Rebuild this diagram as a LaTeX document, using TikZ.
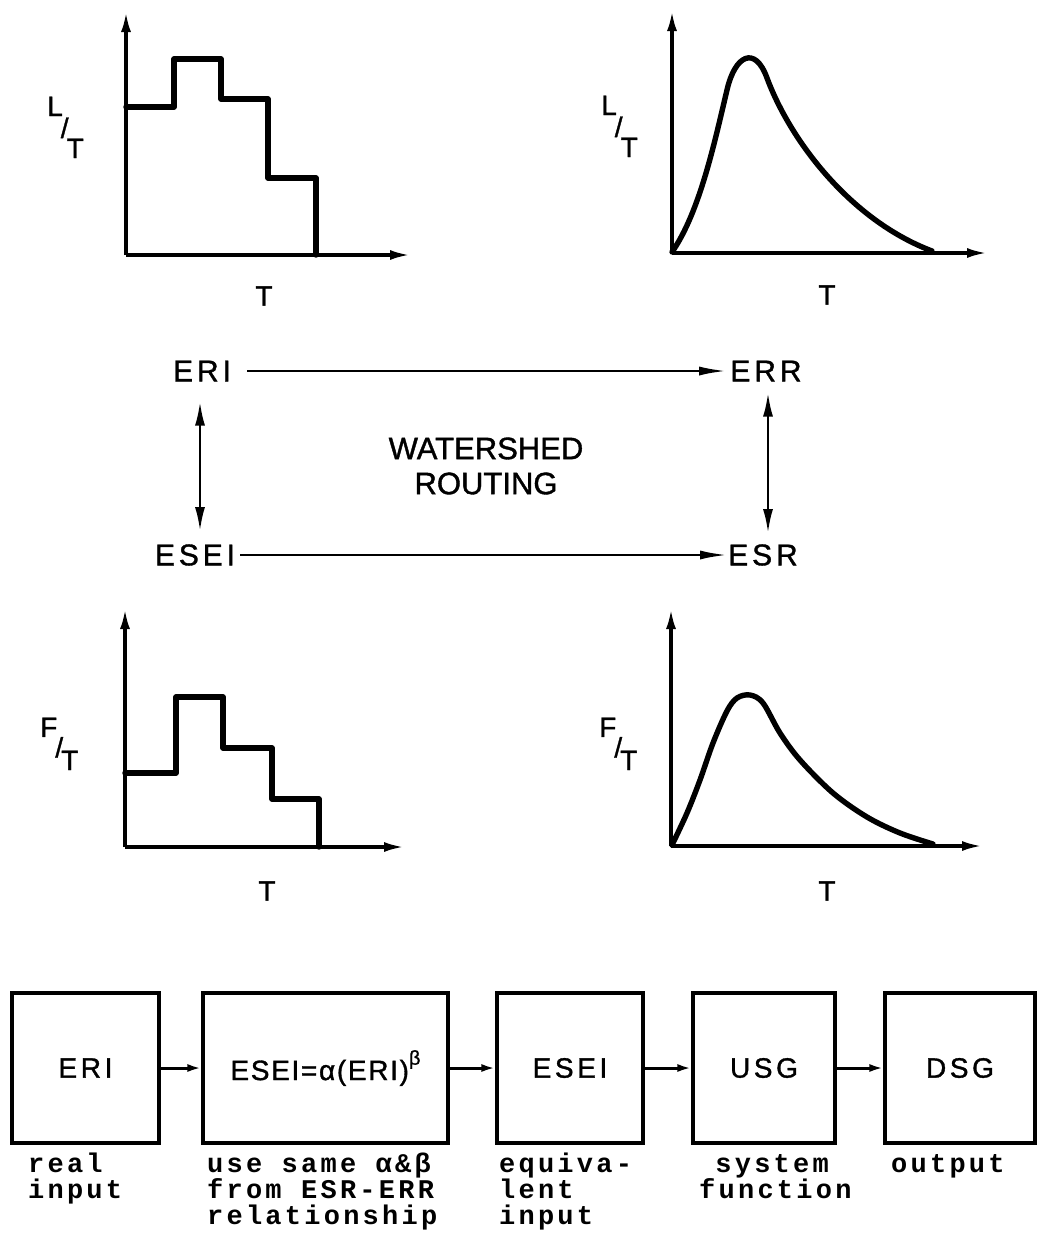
\documentclass[tikz,border=0pt]{standalone}
\usepackage{fontspec}
\usetikzlibrary{arrows.meta,calc}
% lettering-guide faces and the typewriter face of the captions
\newfontfamily\letr{Liberation Sans}[LetterSpace=13,FakeBold=1.2]
\newfontfamily\letrmid{Liberation Sans}[LetterSpace=6,FakeBold=1.2]
\newfontfamily\letrplain{Liberation Sans}[FakeBold=1.2]
\newfontfamily\tw{Liberation Mono}[LetterSpace=12]
% quantity-per-time axis label: #1 over T, raised by #2 (letter) and #3 (slash)
\newcommand{\perT}[3]{\raisebox{#2}{#1}\kern-0.07em\raisebox{#3}{/}\kern-0.07em T}
% invisible prop that fixes the top of a caption's first line
\newcommand{\captop}{\rule{0pt}{22pt}}

\begin{document}
\begin{tikzpicture}[x=1pt,y=-1pt,
  axis/.style={line width=3.2pt,-{Latex[length=20pt,width=10pt]}},
  graph/.style={line width=5.4pt,line join=round,line cap=round},
  flowarr/.style={line width=2.8pt,-{Latex[length=28pt,width=9pt]}},
  twoway/.style={line width=2.6pt,{Latex[length=24pt,width=10pt]}-{Latex[length=24pt,width=10pt]}},
  term/.style={inner sep=0pt,font=\letr\fontsize{30}{36}\selectfont},
  axlabel/.style={inner sep=0pt,font=\letrplain\fontsize{28}{30}\selectfont},
  blk/.style={draw,line width=3.2pt,minimum height=150pt,inner sep=0pt,font=\letr\fontsize{28}{34}\selectfont},
  link/.style={line width=3pt,-{Latex[length=14pt,width=8pt]}},
  note/.style={inner sep=0pt,align=left,anchor=north west,font=\tw\bfseries\fontsize{27}{26}\selectfont}]

\useasboundingbox (0,0) rectangle (1038,1248);

% ---- upper left: stepped rainfall input L/T
\draw[axis] (126,255) -- (126,12);
\draw[axis] (126,255) -- (410,255);
\draw[graph] (126,107) -| (174,59) -| (221,99) -| (268,178) -| (316,255);
\node[axlabel,anchor=base west] (ul) at (47,158) {\perT{L}{1.5em}{0.72em}};
\node[axlabel] (ut) at (264,296) {T};

% ---- upper right: runoff response L/T
\draw[axis] (672,253) -- (672,11);
\draw[axis] (672,253) -- (987,253);
\draw[graph] (672,252) .. controls (700,212) and (715,140) .. (727,90)
                      .. controls (735,55) and (755,45) .. (767,78)
                      .. controls (790,140) and (850,220) .. (932,251);
\node[axlabel,anchor=base west] (rl) at (601,157) {\perT{L}{1.5em}{0.72em}};
\node[axlabel] (rt) at (827,295) {T};

% ---- routing relations
\node[term] (eri) at (202,371) {ERI};
\node[term] (err) at (766,371) {ERR};
\node[term] (esei) at (195,555) {ESEI};
\node[term] (esr) at (763,555) {ESR};
\node[inner sep=0pt,align=center,font=\letrplain\fontsize{31}{35}\selectfont] (ws) at (486,466) {WATERSHED\\ROUTING};

\draw[flowarr] ([xshift=16pt]eri.east) -- ([xshift=-3pt]err.west);
\draw[flowarr] ([xshift=5pt]esei.east) -- (esr.west);
\draw[twoway] ($(eri.south)+(-2pt,-20pt)$) -- ($(esei.north -| eri.south)+(-2pt,13pt)$);
\draw[twoway] ($(err.south)+(2pt,-11pt)$) -- ($(esr.north -| err.south)+(2pt,11pt)$);

% ---- lower left: equivalent stepped input F/T
\draw[axis] (125,847) -- (125,609);
\draw[axis] (125,847) -- (404,847);
\draw[graph] (125,773) -| (176,697) -| (223,748) -| (272,799) -| (319,847);
\node[axlabel,anchor=base west] (dl) at (40,770) {\perT{F}{1.18em}{0.45em}};
\node[axlabel] (dt) at (267,891) {T};

% ---- lower right: equivalent response F/T
\draw[axis] (671,846) -- (671,609);
\draw[axis] (671,846) -- (982,846);
\draw[graph] plot[smooth,tension=0.55] coordinates {(672,845) (687,813) (700,780) (713,743) (727,711) (737,698) (750,695) (763,703) (780,733) (800,760) (833,793) (867,817) (900,833) (933,844)};
\node[axlabel,anchor=base west] (el) at (599,770) {\perT{F}{1.18em}{0.45em}};
\node[axlabel] (et) at (827,891) {T};

% ---- block chain
\node[blk,minimum width=147pt] (b1) at (85.5,1068) {ERI};
\node[blk,minimum width=245pt,font=\letrmid\fontsize{28}{34}\selectfont] (b2) at (325.5,1068) {ESEI=α(ERI)\raisebox{0.55em}{\fontsize{20}{20}\selectfont β}};
\node[blk,minimum width=146pt] (b3) at (570,1068) {ESEI};
\node[blk,minimum width=142pt] (b4) at (764,1068) {USG};
\node[blk,minimum width=150pt] (b5) at (960,1068) {DSG};

\draw[link] (b1) -- (b2);
\draw[link] (b2) -- (b3);
\draw[link] (b3) -- (b4);
\draw[link] (b4) -- (b5);

% ---- captions under the blocks (first baseline at y = 1172)
\node[note] (n1) at (28,1150) {\captop real\\input};
\node[note] (n2) at (207,1150) {\captop use same α\&β\\from ESR-ERR\\relationship};
\node[note] (n3) at (499,1150) {\captop equiva-\\lent\\input};
\node[note] (n4) at (699,1150) {\captop\hphantom{s}system\\function};
\node[note] (n5) at (891,1150) {\captop output};

\end{tikzpicture}
\end{document}
